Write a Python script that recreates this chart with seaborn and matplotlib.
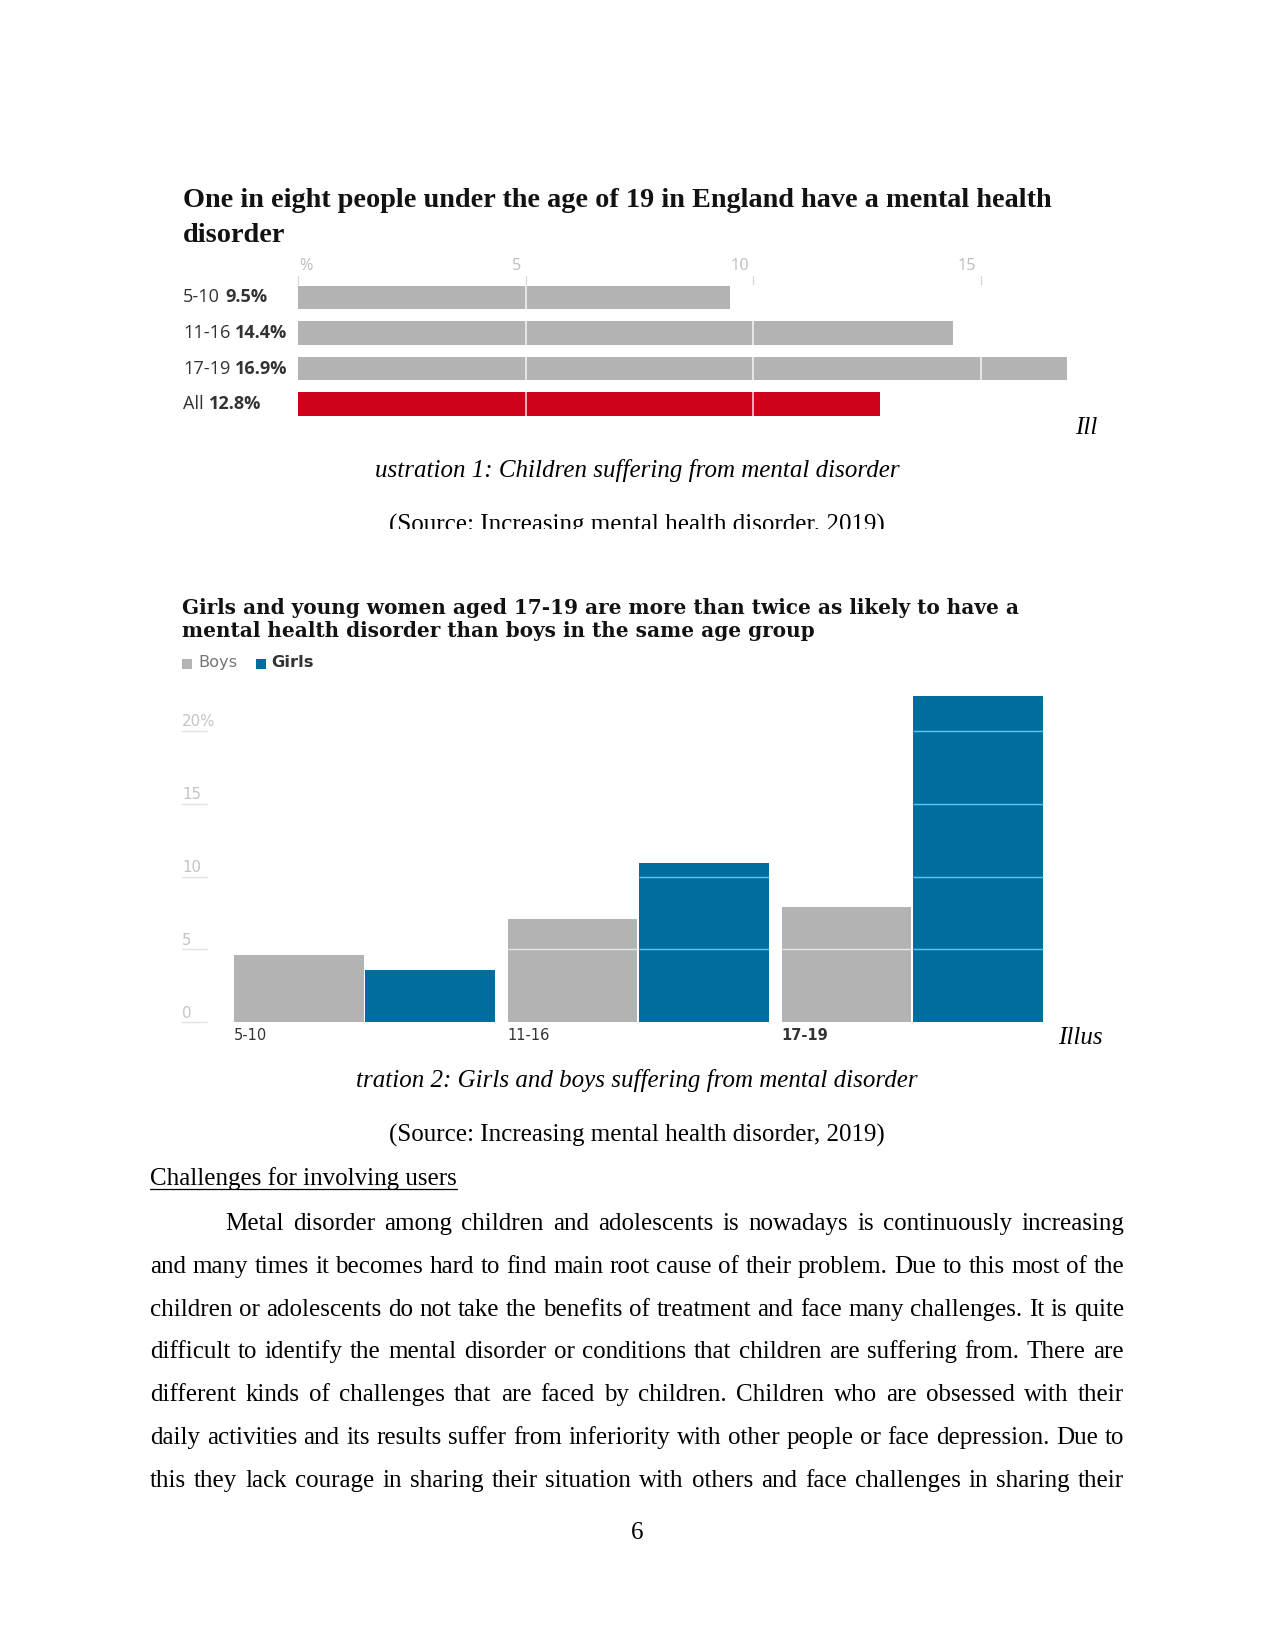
import matplotlib
matplotlib.use("Agg")
import matplotlib.pyplot as plt
from matplotlib.lines import Line2D
from matplotlib.patches import Rectangle
import pandas as pd
import seaborn as sns

W, H, DPI = 1275, 1651, 150

# chart 1: share with a mental health disorder, by age
AGE_GROUPS = ["5-10", "11-16", "17-19", "All"]
ALL_PCT = [9.5, 14.4, 16.9, 12.8]
C1_TICKS = [0, 5, 10, 15]
C1_TICK_LABELS = ["%", "5", "10", "15"]
C1_TITLE = [
    "One in eight people under the age of 19 in England have a mental health",
    "disorder",
]

# chart 2: boys vs girls
SEX_AGES = ["5-10", "11-16", "17-19"]
BOYS_PCT = [4.6, 7.1, 7.9]
GIRLS_PCT = [3.6, 10.9, 22.4]
C2_TICKS = [0, 5, 10, 15, 20]
C2_TICK_LABELS = ["0", "5", "10", "15", "20%"]
C2_TITLE = [
    "Girls and young women aged 17-19 are more than twice as likely to have a",
    "mental health disorder than boys in the same age group",
]

CAPTION_1 = "ustration 1: Children suffering from mental disorder"
CAPTION_2 = "tration 2: Girls and boys suffering from mental disorder"
SOURCE = "(Source: Increasing mental health disorder, 2019)"
HEADING = "Challenges for involving users"
BODY_LINES = [
    "Metal disorder among children and adolescents is nowadays is continuously increasing",
    "and many times it becomes hard to find main root cause of their problem. Due to this most of the",
    "children or adolescents do not take the benefits of treatment and face many challenges. It is quite",
    "difficult to identify the mental disorder or conditions that children are suffering from. There are",
    "different kinds of challenges that are faced by children. Children who are obsessed with their",
    "daily activities and its results suffer from inferiority with other people or face depression. Due to",
    "this they lack courage in sharing their situation with others and face challenges in sharing their",
]

GREY = "#b3b3b3"
RED = "#d0021b"
BLUE = "#006d9e"
SERIF = "Liberation Serif"

sns.set_theme(style="white")
plt.rcParams["font.family"] = ["DejaVu Sans"]
plt.rcParams["text.color"] = "black"

fig = plt.figure(figsize=(W / DPI, H / DPI), dpi=DPI)
fig.patch.set_facecolor("white")
renderer = fig.canvas.get_renderer()


def fx(x):
    return x / W


def fy(y):
    return 1 - y / H


def put(x, y, s, **kw):
    kw.setdefault("va", "center")
    return fig.text(fx(x), fy(y), s, **kw)


def width_px(t):
    return t.get_window_extent(renderer).width


def fit_width(t, target):
    for _ in range(2):
        t.set_fontsize(t.get_fontsize() * target / width_px(t))
    return t.get_fontsize()


def justify(line, x0, x1, y, **kw):
    words = line.split()
    texts = [put(0, y, w, va="baseline", **kw) for w in words]
    widths = [width_px(t) for t in texts]
    gap = (x1 - x0 - sum(widths)) / (len(words) - 1)
    x = x0
    for t, w in zip(texts, widths):
        t.set_x(fx(x))
        x += w + gap


# ---------------- chart 1 ----------------
t = put(183, 207, C1_TITLE[0], va="baseline", family=SERIF, weight="bold",
        fontsize=14, color="#121212")
size1 = fit_width(t, 867)
put(183, 242, C1_TITLE[1], va="baseline", family=SERIF, weight="bold",
    fontsize=size1, color="#121212")

c1_left, c1_right, c1_top, c1_bot = 298, 298 + 18 * 45.5, 279.75, 421.75
ax1 = fig.add_axes([fx(c1_left), fy(c1_bot), (c1_right - c1_left) / W, (c1_bot - c1_top) / H])
sns.barplot(x=ALL_PCT, y=AGE_GROUPS, hue=AGE_GROUPS, palette=[GREY, GREY, GREY, RED],
            orient="h", width=0.66, saturation=1, legend=False, linewidth=0, ax=ax1)
ax1.set_xlim(0, 18)
ax1.set_ylim(3.5, -0.5)
ax1.axis("off")

px_unit = (c1_right - c1_left) / 18
for tick, lab in zip(C1_TICKS, C1_TICK_LABELS):
    if tick > 0:
        ax1.axvline(tick, color="white", lw=0.8, alpha=0.8, zorder=5)
    ax1.plot([tick, tick], [-0.6, -0.37], color="#d5d5d5", lw=0.6, clip_on=False, zorder=6)
    if tick == 0:
        ax1.text(tick + 1 / px_unit, -0.88, lab, ha="left", va="center", fontsize=7.8,
                 family="Open Sans", color="#bdbdbd", clip_on=False)
    else:
        ax1.text(tick - 4 / px_unit, -0.88, lab, ha="right", va="center", fontsize=7.8,
                 family="Open Sans", color="#bdbdbd", clip_on=False)

for i, (age, val) in enumerate(zip(AGE_GROUPS, ALL_PCT)):
    y = c1_top + (i + 0.5) * (c1_bot - c1_top) / 4
    a = put(183, y, age, family="Open Sans", fontsize=8.7, color="#333333")
    put(183 + width_px(a) + 5, y, f"{val}%", family="Open Sans", weight="bold",
        fontsize=8.7, color="#333333")

put(1075, 433.5, "Ill", va="baseline", family=SERIF, style="italic", fontsize=12)
put(637, 477, CAPTION_1, va="baseline", ha="center", family=SERIF, style="italic", fontsize=12)

# source line cut off by the page image below it
clip_ax = fig.add_axes([0, fy(529), 1, (529 - 500) / H])
clip_ax.axis("off")
clip_ax.text(fx(637), fy(532), SOURCE, transform=fig.transFigure, ha="center", va="baseline",
             family=SERIF, fontsize=12, color="black", clip_on=True)

# ---------------- chart 2 ----------------
t = put(182, 614, C2_TITLE[0], va="baseline", family="DejaVu Serif", weight="bold",
        fontsize=9, color="#121212")
size2 = fit_width(t, 836)
put(182, 637, C2_TITLE[1], va="baseline", family="DejaVu Serif", weight="bold",
    fontsize=size2, color="#121212")

fig.add_artist(Rectangle((fx(182), fy(668.5)), 10 / W, 10 / H, color=GREY, lw=0))
put(198, 663, "Boys", family="DejaVu Sans", fontsize=7.8, color="#767676")
fig.add_artist(Rectangle((fx(256), fy(668.5)), 10 / W, 10 / H, color=BLUE, lw=0))
put(271, 663, "Girls", family="DejaVu Sans", weight="bold", fontsize=7.8, color="#333333")

c2_left, c2_right, c2_zero, c2_unit = 227.6, 1049.0, 1022.0, 14.55
c2_ymax = 23
ax2 = fig.add_axes([fx(c2_left), fy(c2_zero), (c2_right - c2_left) / W, c2_ymax * c2_unit / H])
df2 = pd.DataFrame({
    "age": SEX_AGES * 2,
    "sex": ["Boys"] * len(SEX_AGES) + ["Girls"] * len(SEX_AGES),
    "pct": BOYS_PCT + GIRLS_PCT,
})
sns.barplot(data=df2, x="age", y="pct", hue="sex", palette=[GREY, BLUE], width=0.96,
            gap=0.015, saturation=1, legend=False, linewidth=0, ax=ax2)
ax2.set_xlim(-0.5, 2.5)
ax2.set_ylim(0, c2_ymax)
ax2.axis("off")

blue_rgb = matplotlib.colors.to_rgb(BLUE)
boys_left = []
for p in ax2.patches:
    h = p.get_height()
    if h <= 0:
        continue
    is_blue = all(abs(a - b) < 0.02 for a, b in zip(p.get_facecolor()[:3], blue_rgb))
    if not is_blue:
        boys_left.append(p.get_x())
    line_col = "#5bc2ee" if is_blue else "#e6e6e6"
    for lv in C2_TICKS[1:]:
        if lv < h:
            ax2.plot([p.get_x(), p.get_x() + p.get_width()], [lv, lv], color=line_col,
                     lw=0.7, zorder=5, solid_capstyle="butt")

ax_w = c2_right - c2_left
stub0, stub1 = (182 - c2_left) / ax_w, (207 - c2_left) / ax_w
ytr = ax2.get_yaxis_transform()
for lv, lab in zip(C2_TICKS, C2_TICK_LABELS):
    ax2.plot([stub0, stub1], [lv, lv], transform=ytr, color="#e3e3e3", lw=0.7, clip_on=False)
    ax2.text(stub0, lv + 9 / c2_unit, lab, transform=ytr, ha="left", va="center",
             fontsize=7.2, color="#c4c4c4", family="DejaVu Sans", clip_on=False)

for x0, age in zip(sorted(boys_left), SEX_AGES):
    ax2.text(x0, -13 / c2_unit, age, ha="left", va="center", fontsize=7, color="#333333",
             weight="bold" if age == "17-19" else "normal", family="DejaVu Sans", clip_on=False)

put(1058, 1044.5, "Illus", va="baseline", family=SERIF, style="italic", fontsize=12)
put(637, 1087.5, CAPTION_2, va="baseline", ha="center", family=SERIF, style="italic", fontsize=12)
put(637, 1142, SOURCE, va="baseline", ha="center", family=SERIF, fontsize=12)

# ---------------- body text ----------------
h = put(150, 1185, HEADING, va="baseline", family=SERIF, fontsize=12)
fig.add_artist(Line2D([fx(150), fx(150 + width_px(h))], [fy(1188.5)] * 2, color="black", lw=0.6))

for i, line in enumerate(BODY_LINES):
    x0 = 225 if i == 0 else 150
    justify(line, x0, 1124, 1230 + 42.8 * i, family=SERIF, fontsize=12)

put(637, 1539, "6", va="baseline", ha="center", family=SERIF, fontsize=12)

fig.savefig("out.png", dpi=DPI, facecolor="white")
